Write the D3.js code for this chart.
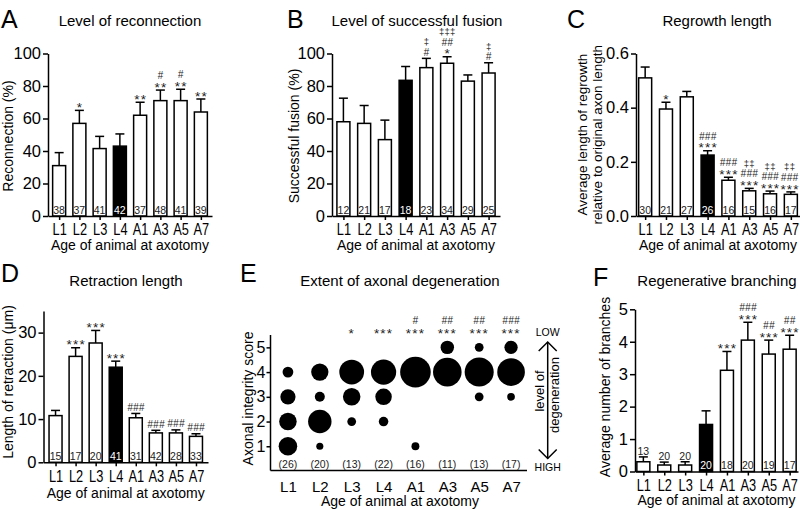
<!DOCTYPE html>
<html><head><meta charset="utf-8">
<script src="https://cdn.jsdelivr.net/npm/d3@7"></script>
<style>
body{margin:0;background:#fff;}
svg{display:block;}
</style></head><body>
<svg id="fig" width="800" height="510"></svg>
<script>
// ---------------- DATA ----------------
const categories = ["L1","L2","L3","L4","A1","A3","A5","A7"];

// A: Level of reconnection (%)
const reconnMean = [31, 57, 41.5, 43, 62, 71, 71, 64];
const reconnSem  = [8, 8, 7.5, 7.5, 8, 6.5, 7, 8];
const reconnN    = [38, 37, 41, 42, 37, 48, 41, 39];
const reconnSig  = [[], ["*"], [], [], ["**"], ["**","#"], ["**","#"], ["**"]];

// B: Level of successful fusion (%)
const fusionMean = [58, 57, 47, 83.5, 91.3, 94, 83, 88];
const fusionSem  = [14.5, 11, 12, 8.5, 5.7, 4, 3.8, 6.3];
const fusionN    = [12, 21, 17, 18, 23, 34, 29, 25];
const fusionSig  = [[], [], [], [], ["#","‡"], ["*","##","‡‡‡"], [], ["#","‡"]];

// C: Regrowth length (relative)
const regrowthMean = [0.51, 0.395, 0.44, 0.225, 0.132, 0.093, 0.082, 0.08];
const regrowthSem  = [0.04, 0.025, 0.02, 0.016, 0.011, 0.009, 0.01, 0.009];
const regrowthN    = [30, 21, 27, 26, 16, 15, 16, 17];
const regrowthSig  = [[], ["*"], [], ["***","###"], ["***","###"], ["***","###","‡‡"], ["***","###","‡‡"], ["***","###","‡‡"]];

// D: Retraction length (µm)
const retractMean = [10.8, 24.5, 27.6, 22, 10.3, 6.8, 6.8, 6.0];
const retractSem  = [1.2, 2.0, 2.9, 1.4, 1.0, 0.6, 0.7, 0.6];
const retractN    = [15, 17, 20, 41, 31, 42, 28, 33];
const retractSig  = [[], ["***"], ["***"], ["***"], ["###"], ["###"], ["###"], ["###"]];

// E: Extent of axonal degeneration (counts per integrity score 1..5)
const degScores = [1, 2, 3, 4, 5];
const degCounts = [
  [9, 8, 6, 3, 0],
  [1, 11, 2, 6, 0],
  [0, 1, 4, 8, 0],
  [0, 2, 6, 14, 0],
  [1, 0, 0, 15, 0],
  [0, 0, 0, 9, 2],
  [0, 0, 1, 11, 1],
  [0, 0, 1, 13, 3]
];
const degN   = [26, 20, 13, 22, 16, 11, 13, 17];
const degSig = [[], [], ["*"], ["***"], ["***","#"], ["***","##"], ["***","##"], ["***","###"]];

// F: Regenerative branching
const branchMean = [0.3, 0.2, 0.2, 1.45, 3.12, 4.05, 3.62, 3.77];
const branchSem  = [0.15, 0.09, 0.1, 0.42, 0.58, 0.55, 0.43, 0.43];
const branchN    = [13, 20, 20, 20, 18, 20, 19, 17];
const branchSig  = [[], [], [], [], ["***"], ["***","###"], ["***","##"], ["***","##"]];

const xLabelText = "Age of animal at axotomy";

// ---------------- DRAWING ----------------
const FONT = '"Liberation Sans", Arial, Helvetica, sans-serif';
const svg = d3.select("#fig").attr("font-family", FONT);
svg.append("rect").attr("width",800).attr("height",510).attr("fill","#fff");

function styleAxis(sel, fs) {
  sel.attr("font-family", FONT).attr("font-size", fs);
  sel.selectAll("path,line").attr("stroke", "#000").attr("stroke-width", 1.5);
  sel.selectAll("text").attr("fill", "#000");
}

function drawSig(g, cx, capY, rows) {
  let c = capY - 6;
  rows.forEach((s, j) => {
    const ch = s[0];
    let fs, k, ls, st = "normal";
    if (ch === "*") { fs = 13.5; k = 0.57; ls = 1.2; }
    else if (ch === "#") { fs = 10; k = 0.35; ls = 0.3; st = "italic"; }
    else { fs = 9.5; k = 0.27; ls = 0.3; }
    if (j > 0) c -= (ch === "‡" ? 9.5 : 8.5);
    g.append("text").attr("x", cx + ls / 2).attr("y", c + k * fs)
      .attr("text-anchor", "middle").attr("font-size", fs)
      .attr("font-style", st).attr("letter-spacing", ls).attr("fill", "#222").text(s);
  });
}

function title(txt, x, y, fs) {
  svg.append("text").attr("x", x).attr("y", y).attr("text-anchor", "middle")
    .attr("font-size", fs || 15).text(txt);
}
function letter(txt, x, y) {
  svg.append("text").attr("x", x).attr("y", y).attr("font-size", 25).text(txt);
}
function yLabel(lines, x, y, fs, lh) {
  lines.forEach((t, i) => {
    svg.append("text").attr("transform", `translate(${x + i * (lh || 0)},${y}) rotate(-90)`)
      .attr("text-anchor", "middle").attr("font-size", fs || 14).text(t);
  });
}

function barPanel(p) {
  const g = svg.append("g");
  const x = d3.scalePoint().domain(categories).range([p.x0, p.x1]).padding(p.pad);
  const y = d3.scaleLinear().domain(p.domain).range([p.yBot, p.yTop]);
  const bw = 13;

  categories.forEach((c, i) => {
    const cx = x(c), top = y(p.mean[i]), cap = y(p.mean[i] + p.sem[i]);
    g.append("line").attr("x1", cx).attr("x2", cx).attr("y1", top).attr("y2", cap)
      .attr("stroke", "#000").attr("stroke-width", 1.5);
    g.append("line").attr("x1", cx - 4.5).attr("x2", cx + 4.5).attr("y1", cap).attr("y2", cap)
      .attr("stroke", "#000").attr("stroke-width", 1.5);
    g.append("rect").attr("x", cx - bw / 2).attr("y", top).attr("width", bw)
      .attr("height", p.yBot - top).attr("fill", i === 3 ? "#000" : "#fff")
      .attr("stroke", "#000").attr("stroke-width", 1.5);
    const inside = (p.yBot - top) > 12;
    g.append("text").attr("x", cx).attr("y", inside ? p.yBot - 2.5 : cap - 2)
      .attr("text-anchor", "middle").attr("font-size", 10.5)
      .attr("fill", inside ? (i === 3 ? "#fff" : "#222") : "#222").text(p.n[i]);
    drawSig(g, Math.min(cx, p.sigMaxX || 1e9), cap, p.sig[i]);
  });

  const ya = g.append("g").attr("transform", `translate(${p.x0},0)`)
    .call(d3.axisLeft(y).tickValues(p.ticks).tickFormat(p.fmt).tickSize(5).tickSizeOuter(0).tickPadding(2));
  styleAxis(ya, 16.5);
  const xa = g.append("g").attr("transform", `translate(0,${p.yBot})`)
    .call(d3.axisBottom(x).tickSize(4).tickSizeOuter(0).tickPadding(p.xpad || 4));
  styleAxis(xa, 16);
  xa.selectAll(".tick text").attr("transform", "scale(0.8,1)");
  svg.append("text").attr("x", (p.x0 + p.x1) / 2).attr("y", p.xLabY).attr("text-anchor", "middle")
    .attr("font-size", 14).text(xLabelText);
}

// Panel A
letter("A", 1, 28);
title("Level of reconnection", 130, 25.5);
yLabel(["Reconnection (%)"], 13, 136);
barPanel({x0: 48, x1: 212, pad: 0.55, yBot: 216, yTop: 53.5, domain: [0, 100],
  ticks: [0, 20, 40, 60, 80, 100], fmt: d3.format("d"),
  mean: reconnMean, sem: reconnSem, n: reconnN, sig: reconnSig, xLabY: 249.5});

// Panel B
letter("B", 287, 28);
title("Level of successful fusion", 417, 25.5);
yLabel(["Successful fusion (%)"], 298.5, 136);
barPanel({x0: 332, x1: 500, pad: 0.55, yBot: 216, yTop: 53.5, domain: [0, 100],
  ticks: [0, 20, 40, 60, 80, 100], fmt: d3.format("d"),
  mean: fusionMean, sem: fusionSem, n: fusionN, sig: fusionSig, xLabY: 249.5});

// Panel C
letter("C", 567, 28);
title("Regrowth length", 717, 25.5);
yLabel(["Average length of regrowth", "relative to original axon length"], 586.5, 134.7, 13.5, 15);
barPanel({x0: 636, x1: 800, pad: 0.44, yBot: 216, yTop: 53.5, domain: [0, 0.6],
  ticks: [0, 0.2, 0.4, 0.6], fmt: d3.format(".1f"), sigMaxX: 789.5,
  mean: regrowthMean, sem: regrowthSem, n: regrowthN, sig: regrowthSig, xLabY: 249.5});

// Panel D
letter("D", 1, 282);
title("Retraction length", 126, 285.5);
yLabel(["Length of retraction (\u03bcm)"], 13.3, 382);
barPanel({x0: 43.5, x1: 208, pad: 0.6, yBot: 462.3, yTop: 311, domain: [0, 35],
  ticks: [0, 10, 20, 30], fmt: d3.format("d"),
  mean: retractMean, sem: retractSem, n: retractN, sig: retractSig, xLabY: 497.5});

// Panel F
letter("F", 593, 286);
title("Regenerative branching", 717, 285.5);
yLabel(["Average number of branches"], 609.5, 387);
barPanel({x0: 635, x1: 798, pad: 0.4, yBot: 471.5, yTop: 309.3, domain: [0, 5],
  ticks: [0, 1, 2, 3, 4, 5], fmt: d3.format("d"), sigMaxX: 789.5,
  mean: branchMean, sem: branchSem, n: branchN, sig: branchSig, xLabY: 505});

// Panel E
letter("E", 240, 282);
title("Extent of axonal degeneration", 400, 285.5);
yLabel(["Axonal integrity score"], 253, 398.5);
(function () {
  const g = svg.append("g");
  const ex0 = 270.5, ex1 = 527, eBot = 470.5;
  const x = d3.scalePoint().domain(categories).range([272, 527]).padding(0.5);
  const y = d3.scaleLinear().domain([0, 5.5]).range([471, 335]);
  const r = d3.scaleSqrt().domain([0, 100]).range([0, 15.8]);

  categories.forEach((c, i) => {
    degScores.forEach((s, j) => {
      const cnt = degCounts[i][j];
      if (cnt > 0) {
        g.append("circle").attr("cx", x(c)).attr("cy", y(s))
          .attr("r", r(cnt / degN[i] * 100)).attr("fill", "#000");
      }
    });
    g.append("text").attr("x", x(c)).attr("y", 467.5).attr("text-anchor", "middle")
      .attr("font-size", 10.5).attr("fill", "#222").text("(" + degN[i] + ")");
    const rows = degSig[i];
    rows.forEach((s, j) => {
      const isStar = s[0] === "*";
      const fs = isStar ? 13.5 : 10;
      const center = j === 0 ? 330.7 : 320.7;
      g.append("text").attr("x", x(c)).attr("y", center + (isStar ? 0.57 : 0.35) * fs)
        .attr("text-anchor", "middle").attr("font-size", fs)
        .attr("font-style", isStar ? "normal" : "italic")
        .attr("letter-spacing", isStar ? 1.2 : 0.3).attr("fill", "#222").text(s);
    });
  });

  const ya = g.append("g").attr("transform", `translate(${ex0},0)`)
    .call(d3.axisLeft(y).tickValues(degScores).tickFormat(d3.format("d")).tickSize(4).tickSizeOuter(0).tickPadding(1));
  styleAxis(ya, 16);
  ya.select(".domain").attr("d", `M0,${y(5.5)}V${eBot}`);
  const xa = g.append("g").attr("transform", `translate(0,${eBot})`)
    .call(d3.axisBottom(x).tickSize(0).tickSizeOuter(0).tickPadding(10.5));
  styleAxis(xa, 15);
  xa.select(".domain").attr("d", `M${ex0},0H${ex1}`);
  svg.append("text").attr("x", 400).attr("y", 505.5).attr("text-anchor", "middle")
    .attr("font-size", 14).text(xLabelText);

  // LOW / HIGH arrow
  const ax = 547.7, aTop = 342, aBot = 458.5;
  g.append("text").attr("x", ax).attr("y", 335.5).attr("text-anchor", "middle").attr("font-size", 10.5).text("LOW");
  g.append("text").attr("x", ax).attr("y", 470.5).attr("text-anchor", "middle").attr("font-size", 10.5).text("HIGH");
  g.append("line").attr("x1", ax).attr("x2", ax).attr("y1", aTop).attr("y2", aBot)
    .attr("stroke", "#000").attr("stroke-width", 1.5);
  g.append("path").attr("d", `M${ax - 9},${aTop + 9}L${ax},${aTop}L${ax + 9},${aTop + 9}`)
    .attr("fill", "none").attr("stroke", "#000").attr("stroke-width", 1.5);
  g.append("path").attr("d", `M${ax - 9},${aBot - 9}L${ax},${aBot}L${ax + 9},${aBot - 9}`)
    .attr("fill", "none").attr("stroke", "#000").attr("stroke-width", 1.5);
  g.append("text").attr("transform", `translate(543.5,391) rotate(-90)`).attr("text-anchor", "middle")
    .attr("font-size", 13).text("level of");
  g.append("text").attr("transform", `translate(558.5,395) rotate(-90)`).attr("text-anchor", "middle")
    .attr("font-size", 13).text("degeneration");
})();
</script>
</body></html>
